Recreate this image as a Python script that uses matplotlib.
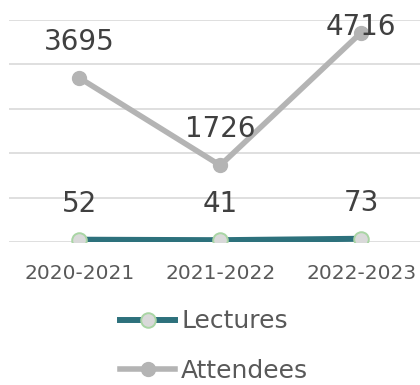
import matplotlib.pyplot as plt

years = ['2020-2021', '2021-2022', '2022-2023']
lectures = [52, 41, 73]
attendees = [3695, 1726, 4716]
# vertical label offsets in points (the top one is squeezed by the chart edge)
att_offsets = [26, 26, 4]
lec_offsets = [26, 26, 26]

fig = plt.figure(figsize=(4.2, 3.85), dpi=100)
ax = fig.add_axes([9/420, 1 - 242/385, (431.5 - 9)/420, (242 - 20)/385])

x = range(len(years))
ax.plot(x, lectures, color='#2D717C', lw=4.3, marker='o', ms=10.5,
        mfc='#D9D9D9', mec='#A9D5A4', mew=1.4, label='Lectures', zorder=3)
ax.plot(x, attendees, color='#B4B4B4', lw=4, marker='o', ms=10,
        mfc='#B4B4B4', mec='#B4B4B4', label='Attendees', zorder=3)

for i, v in enumerate(attendees):
    ax.annotate(str(v), (i, v), xytext=(0, att_offsets[i]), textcoords='offset points',
                ha='center', va='center', fontsize=20, color='#404040')
for i, v in enumerate(lectures):
    ax.annotate(str(v), (i, v), xytext=(0, lec_offsets[i]), textcoords='offset points',
                ha='center', va='center', fontsize=20, color='#404040')

ax.set_xlim(-0.5, 2.5)
ax.set_ylim(0, 5000)
ax.set_yticks(range(0, 5001, 1000))
ax.set_yticklabels([])
ax.set_xticks(list(x))
ax.set_xticklabels(years, fontsize=14.5, color='#595959')
ax.tick_params(axis='both', length=0)
ax.tick_params(axis='x', pad=16)
ax.grid(axis='y', color='#D9D9D9', lw=1.2)
ax.set_axisbelow(True)
for s in ax.spines.values():
    s.set_visible(False)

fig.legend(loc='center left', bbox_to_anchor=(120/420, 1 - 346/385), frameon=False,
           fontsize=18, handlelength=2.2, handletextpad=0.25, labelspacing=1.0,
           borderpad=0, borderaxespad=0, labelcolor='#595959')

fig.savefig('out.png', dpi=100)
